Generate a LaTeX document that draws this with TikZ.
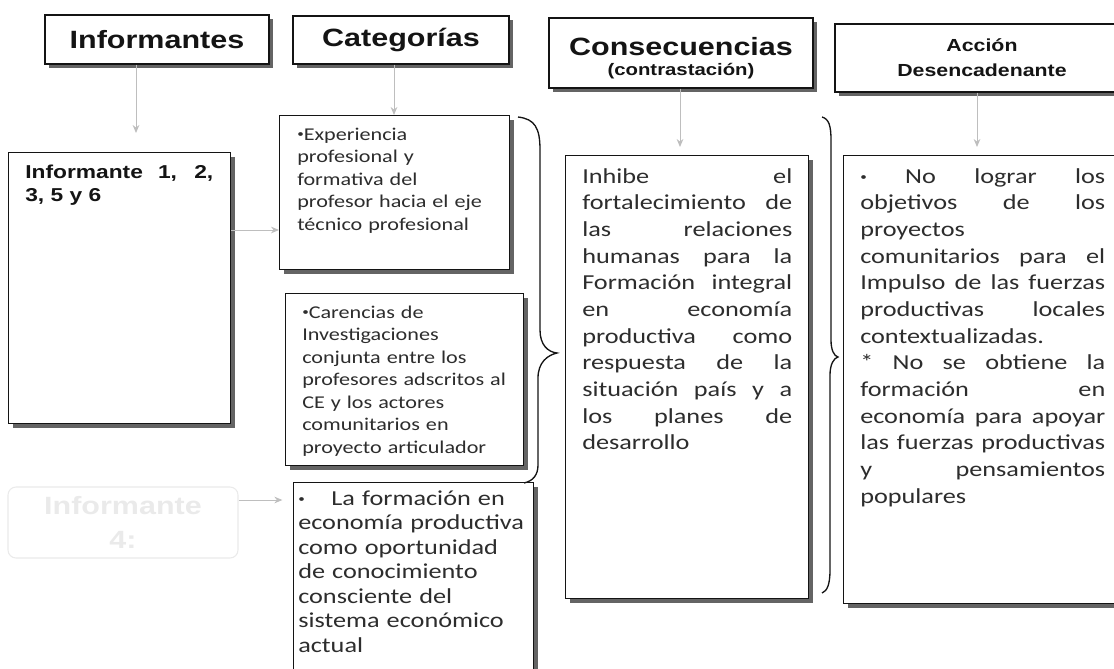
\documentclass[tikz,border=0pt]{standalone}
\usepackage{fontspec}
\usepackage{tikz}
\usetikzlibrary{positioning,calc,shadows,arrows.meta}
\newfontfamily\hdrfont[FakeStretch=1.22]{Liberation Sans}
\newfontfamily\bodyfont[FakeStretch=1.23]{Carlito}
\definecolor{InkBlack}{RGB}{20,20,20}
\definecolor{BodyInk}{RGB}{45,45,45}
\definecolor{ShadowGray}{RGB}{100,100,100}
\definecolor{ArrowGray}{RGB}{190,190,190}
\definecolor{GhostGray}{RGB}{234,234,234}
\newcommand{\smbul}{\raisebox{0.25ex}{\fontsize{8pt}{8pt}\selectfont•}}
\tolerance=10000
\hbadness=10000
\hyphenpenalty=10000
\tikzset{
    boxshadow/.style={drop shadow={shadow xshift=3pt,shadow yshift=-3pt,fill=ShadowGray,opacity=1}},
    hdrbox/.style={draw=InkBlack,line width=0.9pt,fill=white,boxshadow,align=center,
        text=InkBlack,inner sep=0pt,font=\hdrfont\bfseries\fontsize{18.75pt}{20pt}\selectfont},
    txtbox/.style={draw=InkBlack,line width=0.9pt,fill=white,boxshadow,anchor=north west,inner sep=0pt},
    ghostbox/.style={draw=GhostGray,line width=0.8pt,rounded corners=6pt,text=GhostGray,align=center,
        font=\hdrfont\bfseries\fontsize{18.75pt}{26pt}\selectfont},
    inftext/.style={anchor=base west,inner sep=0pt,text width=#1,align=justify,text=InkBlack,
        font=\hdrfont\bfseries\fontsize{14pt}{17.25pt}\selectfont},
    cattext/.style={anchor=base west,inner sep=0pt,text width=#1,align=left,text=BodyInk,
        font=\bodyfont\fontsize{13.5pt}{16.9pt}\selectfont},
    fortext/.style={anchor=base west,inner sep=0pt,text width=#1,align=left,text=BodyInk,
        font=\bodyfont\fontsize{16pt}{18.4pt}\selectfont},
    justtext/.style={anchor=base west,inner sep=0pt,text width=#1,align=justify,text=BodyInk,
        font=\bodyfont\fontsize{16pt}{20pt}\selectfont},
    conn/.style={draw=ArrowGray,line width=0.7pt,-{Stealth[length=6pt,width=5pt]}},
    brace/.style={draw=InkBlack,line width=1pt}
}
\begin{document}
\begin{tikzpicture}[x=0.75pt,y=-0.75pt]
    \useasboundingbox (0,0) rectangle (1114,668);
    \node[hdrbox,minimum width=168pt,minimum height=36.75pt] (hInf) at (157,39.5) {Informantes};
    \node[hdrbox,minimum width=162pt,minimum height=36pt] (hCat) at (401,40) {Categorías};
    \node[hdrbox,minimum width=198pt,minimum height=52.5pt] (hCon) at (681,53) {\rule{0pt}{22pt}Consecuencias\\[-5pt]{\fontsize{12.5pt}{15pt}\selectfont(contrastación)}};
    \node[hdrbox,minimum width=220.5pt,minimum height=51pt,font=\hdrfont\bfseries\fontsize{13.1pt}{18.75pt}\selectfont] (hAcc) at (982,58) {Acción\\Desencadenante};
    \node[txtbox,minimum width=166.5pt,minimum height=203.25pt] (infA) at (8,152) {};
    \node[txtbox,minimum width=172.5pt,minimum height=115.5pt] (expA) at (279,115) {};
    \node[txtbox,minimum width=178.5pt,minimum height=129pt] (carA) at (285,293) {};
    \node[txtbox,minimum width=180pt,minimum height=170pt] (forA) at (293,482) {};
    \node[txtbox,minimum width=182.25pt,minimum height=332.25pt] (conA) at (565,155) {};
    \node[txtbox,minimum width=211.5pt,minimum height=336pt] (accA) at (843,155) {};
    \node[ghostbox,minimum width=172.5pt,minimum height=53.25pt] (ghost) at (123,522.5) {Informante\\4:};
    \node[inftext=141pt] (infT) at (25,178.5) {Informante 1, 2,\linebreak 3, 5 y 6};
    \node[cattext=156pt] (expT) at (297,140) {\smbul Experiencia\\profesional y\\formativa del\\profesor hacia el eje\\técnico profesional};
    \node[cattext=160pt] (carT) at (302,318) {\smbul Carencias de\\Investigaciones\\conjunta entre los\\profesores adscritos al\\CE y los actores\\comunitarios en\\proyecto articulador};
    \node[fortext=176pt] (forT) at (298,505) {\smbul\hspace{20pt}La formación en\\economía productiva\\como oportunidad\\de conocimiento\\consciente del\\sistema económico\\actual};
    \node[justtext=157.5pt] (conT) at (582,183) {Inhibe el\linebreak fortalecimiento de\linebreak las relaciones\linebreak humanas para la\linebreak Formación integral\linebreak en economía\linebreak productiva como\linebreak respuesta de la\linebreak situación país y a\linebreak los planes de\linebreak desarrollo};
    \node[justtext=183.75pt] (accT) at (860,183) {\smbul\ No lograr los\linebreak objetivos de los\linebreak proyectos\\comunitarios para el\linebreak Impulso de las fuerzas\linebreak productivas locales\linebreak contextualizadas.\\{}* No se obtiene la\linebreak formación en\linebreak economía para apoyar\linebreak las fuerzas productivas\linebreak y pensamientos\linebreak populares};
    \coordinate (tInf) at (136,133);
    \coordinate (tCat) at (394,0);
    \coordinate (tCon) at (680,147);
    \coordinate (tAcc) at (977,147);
    \coordinate (rInf) at (0,230);
    \coordinate (rGho) at (0,500);
    \draw[conn] (hInf.south -| tInf) -- (tInf);
    \draw[conn] (hCat.south -| tCat) -- (expA.north -| tCat);
    \draw[conn] (hCon.south -| tCon) -- (tCon);
    \draw[conn] (hAcc.south -| tAcc) -- (tAcc);
    \draw[conn] (infA.east |- rInf) -- (expA.west |- rInf);
    \draw[conn,shorten >=8pt] (ghost.east |- rGho) -- (forA.west |- rGho);
    \draw[brace] (518,117) .. controls (535,119) and (540,128) .. (540,150) -- (540,330)
        .. controls (540,345) and (548,352) .. (557,353) .. controls (548,355) and (538,362) .. (538,378)
        -- (538,465) .. controls (538,475) and (533,481) .. (524,483);
    \draw[brace] (822,117) .. controls (829,119) and (831,126) .. (831,140) -- (831,340)
        .. controls (831,350) and (834,356) .. (838,357) .. controls (834,358) and (830,364) .. (830,375)
        -- (830,570) .. controls (830,585) and (827,591) .. (822,593);
\end{tikzpicture}
\end{document}
